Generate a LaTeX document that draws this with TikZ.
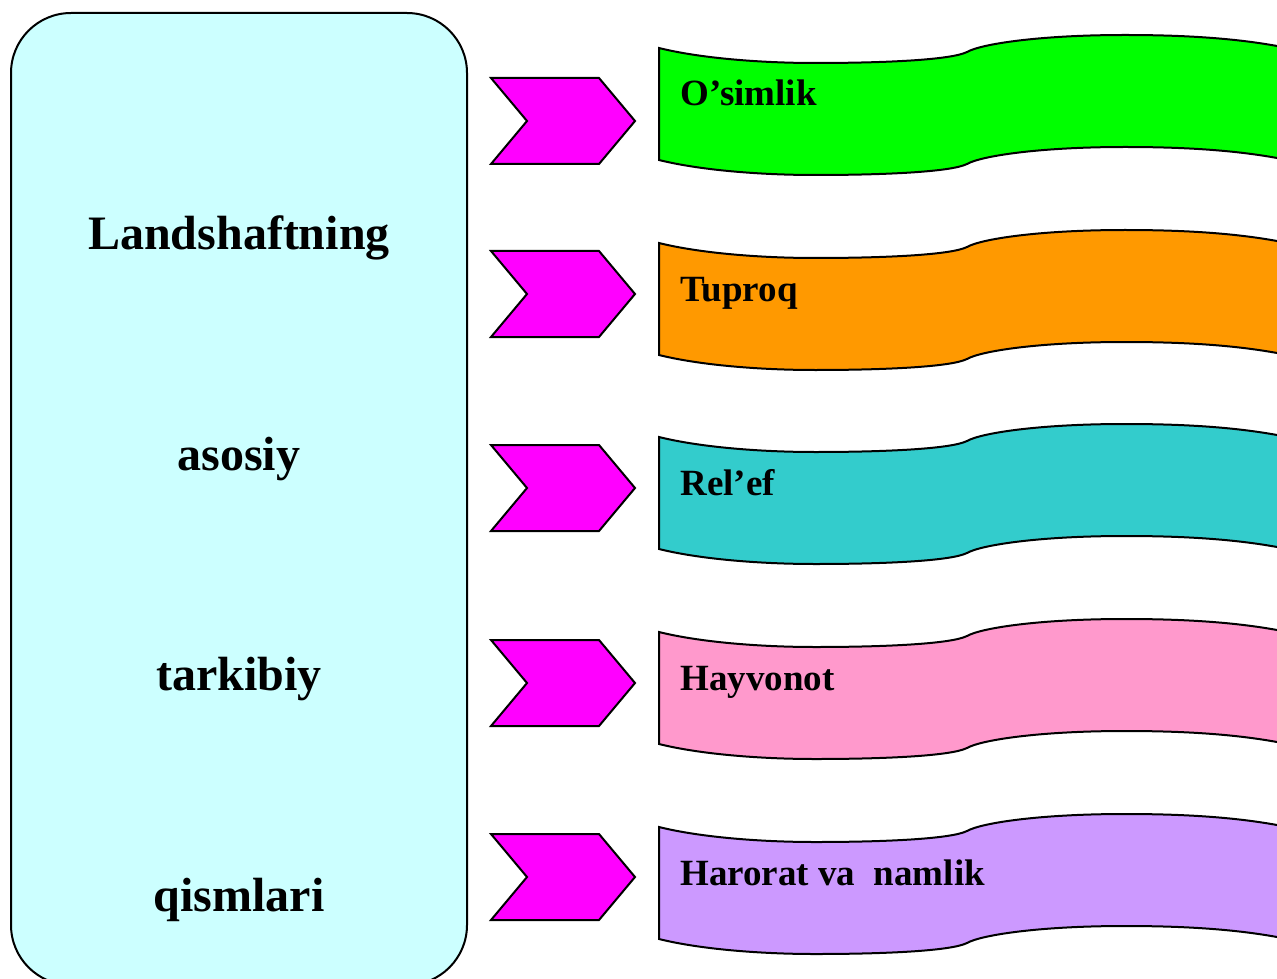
\documentclass[tikz,border=0pt]{standalone}
\usepackage{fontspec}
\setmainfont{Liberation Serif}
\definecolor{boxColor}{RGB}{204,255,255}
\definecolor{chevronColor}{RGB}{255,0,255}
\definecolor{plantColor}{RGB}{0,255,0}
\definecolor{soilColor}{RGB}{255,153,0}
\definecolor{reliefColor}{RGB}{51,204,204}
\definecolor{animalColor}{RGB}{255,153,204}
\definecolor{climateColor}{RGB}{204,153,255}
\tikzset{mainbox/.style={draw, line width=1pt, fill=boxColor, rounded corners=30pt, minimum width=228pt, minimum height=486pt}}
\tikzset{maintext/.style={font=\bfseries\fontsize{24}{28}\selectfont, inner sep=0pt, anchor=base}}
\tikzset{ribbontext/.style={font=\bfseries\fontsize{18.5}{22}\selectfont, inner sep=0pt, anchor=base west}}
\tikzset{pics/chevronmark/.style={code={
  \draw[line width=1pt, fill=chevronColor] (0,0) -- (108,0) -- (144,43) -- (108,86) -- (0,86) -- (36,43) -- cycle;}}}
\tikzset{pics/ribbon/.style={code={
  \draw[line width=1pt, fill=#1] (0,0) .. controls (40,10) and (100,15) .. (156,15)
    .. controls (225,15) and (292,12) .. (308,4)
    .. controls (322,-4) and (380,-13) .. (466,-13)
    .. controls (540,-13) and (600,-8) .. (650,5)
    -- (650,117)
    .. controls (600,104) and (540,99) .. (466,99)
    .. controls (380,99) and (322,108) .. (308,116)
    .. controls (292,124) and (225,127) .. (156,127)
    .. controls (100,127) and (40,122) .. (0,112) -- cycle;}}}

\begin{document}
\begin{tikzpicture}[x=0.5pt, y=-0.5pt]
\useasboundingbox (0,0) rectangle (1277,978);
\clip (0,0) rectangle (1277,978);

% Left box
\node (box) [mainbox] at (239,499) {};
\node (landshaftning) [maintext] at (239,250) {Landshaftning};
\node (asosiy) [maintext] at (239,470) {asosiy};
\node (tarkibiy) [maintext] at (239,690) {tarkibiy};
\node (qismlari) [maintext] at (239,911) {qismlari};

% Chevrons
\pic (chev1) at (491,78) {chevronmark};
\pic (chev2) at (491,251) {chevronmark};
\pic (chev3) at (491,445) {chevronmark};
\pic (chev4) at (491,640) {chevronmark};
\pic (chev5) at (491,834) {chevronmark};

% Ribbons
\pic (rib1) at (659,48) {ribbon=plantColor};
\pic (rib2) at (659,243) {ribbon=soilColor};
\pic (rib3) at (659,437) {ribbon=reliefColor};
\pic (rib4) at (659,632) {ribbon=animalColor};
\pic (rib5) at (659,827) {ribbon=climateColor};

\node (osimlik) [ribbontext] at (680,106) {O’simlik};
\node (tuproq) [ribbontext] at (680,301) {Tuproq};
\node (relef) [ribbontext] at (680,495) {Rel’ef};
\node (hayvonot) [ribbontext] at (680,690) {Hayvonot};
\node (harorat) [ribbontext] at (680,885) {Harorat va~ namlik};

\end{tikzpicture}
\end{document}
